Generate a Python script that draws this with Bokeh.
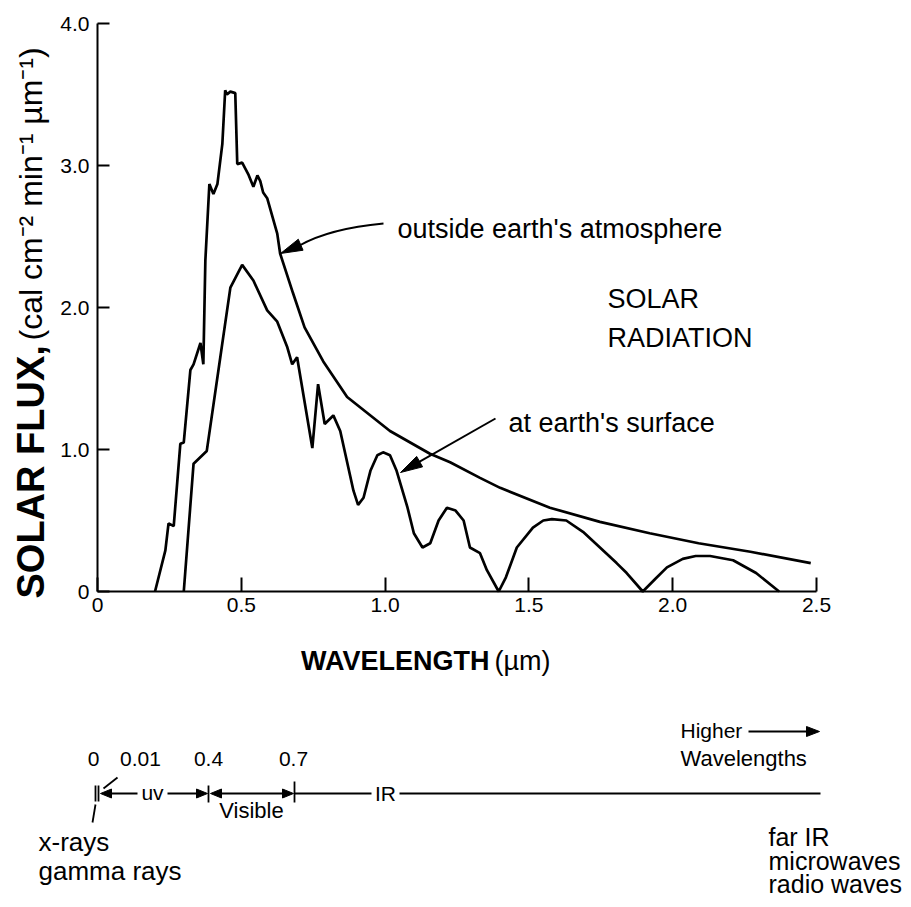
import math
from bokeh.plotting import figure
from bokeh.models import Range1d, FixedTicker, Label, CustomJSTickFormatter
from bokeh.embed import file_html
from bokeh.resources import INLINE

# ---------------- data ----------------
outside_wl = [0.200, 0.236, 0.247, 0.265, 0.288, 0.300, 0.323, 0.334, 0.358, 0.368,
              0.375, 0.389, 0.403, 0.417, 0.434, 0.444, 0.450, 0.462, 0.479, 0.486,
              0.503, 0.524, 0.542, 0.556, 0.566, 0.576, 0.590, 0.625, 0.635, 0.680,
              0.720, 0.785, 0.868, 1.017, 1.156, 1.226, 1.330, 1.400, 1.573, 1.747,
              1.920, 2.090, 2.270, 2.480]
outside_flux = [0.00, 0.29, 0.48, 0.46, 1.04, 1.05, 1.56, 1.60, 1.75, 1.60,
                2.33, 2.87, 2.80, 2.87, 3.15, 3.53, 3.50, 3.52, 3.51, 3.01,
                3.02, 2.94, 2.85, 2.93, 2.89, 2.81, 2.77, 2.52, 2.38, 2.10,
                1.86, 1.62, 1.37, 1.13, 0.97, 0.91, 0.80, 0.73, 0.59, 0.49,
                0.41, 0.34, 0.28, 0.20]

surface_wl = [0.300, 0.334, 0.380, 0.427, 0.462, 0.503, 0.542, 0.590, 0.625, 0.660,
              0.677, 0.694, 0.747, 0.767, 0.790, 0.820, 0.844, 0.890, 0.906, 0.925,
              0.949, 0.973, 0.993, 1.017, 1.040, 1.078, 1.100, 1.130, 1.157, 1.186,
              1.215, 1.245, 1.273, 1.295, 1.330, 1.354, 1.395, 1.420, 1.458, 1.514,
              1.550, 1.580, 1.630, 1.688, 1.747, 1.805, 1.840, 1.896, 1.940, 1.980,
              2.035, 2.080, 2.130, 2.210, 2.290, 2.370]
surface_flux = [0.00, 0.90, 0.99, 1.65, 2.14, 2.30, 2.19, 1.98, 1.90, 1.72,
                1.60, 1.65, 1.01, 1.46, 1.18, 1.24, 1.13, 0.71, 0.61, 0.66,
                0.85, 0.96, 0.98, 0.96, 0.85, 0.59, 0.41, 0.31, 0.34, 0.50,
                0.59, 0.57, 0.50, 0.31, 0.27, 0.15, 0.00, 0.10, 0.31, 0.45,
                0.50, 0.51, 0.50, 0.42, 0.31, 0.20, 0.13, 0.00, 0.09, 0.17,
                0.23, 0.25, 0.25, 0.22, 0.13, 0.00]

x_ticks = [0, 0.5, 1.0, 1.5, 2.0, 2.5]
x_tick_labels = ["0", "0.5", "1.0", "1.5", "2.0", "2.5"]
y_ticks = [0, 1, 2, 3, 4]
y_tick_labels = ["0", "1.0", "2.0", "3.0", "4.0"]

band_edge_labels = ["0", "0.01", "0.4", "0.7"]
band_names = ["uv", "Visible", "IR"]

# ---------------- layout (page pixels) ----------------
FONT = "Liberation Sans"
W, H = 905, 901
FL, FTOP = 97, 23            # where x=0 / y=4.0 sit on the page
FW, FH = 719, 568            # pixel span of 0..2.5 and 0..4.0
SX, SY = FW / 2.5, FH / 4.0

def fx(px):
    return (px - FL) / SX

def fy(py):
    return (FTOP + FH - py) / SY

def head(tx, ty, fxp, fyp, L, hw):
    dx, dy = tx - fxp, ty - fyp
    d = math.hypot(dx, dy)
    ux, uy = dx / d, dy / d
    bx, by = tx - ux * L, ty - uy * L
    nx, ny = -uy, ux
    return [tx, bx + nx * hw, bx - nx * hw], [ty, by + ny * hw, by - ny * hw]

p = figure(width=W, height=H, x_range=Range1d(fx(0), fx(W)), y_range=Range1d(fy(H), fy(0)),
           output_backend="svg", toolbar_location=None, min_border=0)
p.outline_line_color = None
p.xgrid.visible = False
p.ygrid.visible = False

fmt_code = "const i = tv.findIndex(t => Math.abs(t - tick) < 1e-9); return i >= 0 ? tl[i] : '';"
p.xaxis.ticker = FixedTicker(ticks=x_ticks)
p.xaxis.formatter = CustomJSTickFormatter(args=dict(tv=x_ticks, tl=x_tick_labels), code=fmt_code)
p.yaxis.ticker = FixedTicker(ticks=y_ticks)
p.yaxis.formatter = CustomJSTickFormatter(args=dict(tv=y_ticks, tl=y_tick_labels), code=fmt_code)
p.xaxis.fixed_location = 0
p.yaxis.fixed_location = 0
p.xaxis.bounds = (x_ticks[0], x_ticks[-1])
p.yaxis.bounds = (y_ticks[0], y_ticks[-1])
for ax in (p.xaxis, p.yaxis):
    ax.axis_line_width = 2
    ax.axis_line_color = "black"
    ax.major_tick_line_width = 2
    ax.major_tick_line_color = "black"
    ax.major_tick_out = 0
    ax.minor_tick_line_color = None
    ax.major_label_text_font = FONT
    ax.major_label_text_font_size = "21px"
    ax.major_label_text_color = "black"
p.xaxis.major_tick_in = 14
p.yaxis.major_tick_in = 12
p.xaxis.major_label_standoff = 6
p.yaxis.major_label_standoff = 8

p.line(outside_wl, outside_flux, line_width=2.7, color="black")
p.line(surface_wl, surface_flux, line_width=2.7, color="black")

def lab(x, y, text, size, style="normal", align="left", baseline="middle", angle=0):
    p.add_layout(Label(x=fx(x), y=fy(y), text=text, text_font=FONT, text_font_size=size,
                       text_font_style=style, text_align=align, text_baseline=baseline,
                       text_color="black", angle=angle))

lab(397, 228, "outside earth's atmosphere", "27px", baseline="alphabetic")
lab(607, 298, "SOLAR", "27px", baseline="alphabetic")
lab(607, 337, "RADIATION", "27px", baseline="alphabetic")
lab(508, 422, "at earth's surface", "27px", baseline="alphabetic")

# axis titles
lab(30, 598, "SOLAR FLUX,", "38px", style="bold", angle=math.pi / 2)
lab(30, 340, "(cal cm\u207b\u00b2 min\u207b\u00b9 \u00b5m\u207b\u00b9)", "32px", angle=math.pi / 2)
lab(489, 660, "WAVELENGTH", "27px", style="bold", align="right")
lab(494, 660, "(\u00b5m)", "27px")

def seg(pts, lw):
    p.segment(x0=[fx(s[0]) for s in pts], y0=[fy(s[1]) for s in pts],
              x1=[fx(s[2]) for s in pts], y1=[fy(s[3]) for s in pts], line_width=lw, color="black")

def heads(hs):
    p.patches([[fx(v) for v in h[0]] for h in hs], [[fy(v) for v in h[1]] for h in hs], color="black")

# arrow: outside earth's atmosphere (curved)
p.bezier(x0=[fx(383)], y0=[fy(223)], x1=[fx(299)], y1=[fy(245)],
         cx0=[fx(340)], cy0=[fy(227)], cx1=[fx(315)], cy1=[fy(236)],
         line_width=2, color="black")
# arrow: at earth's surface (straight)
tip2, from2 = (400, 472), (495, 418)
d = math.hypot(tip2[0] - from2[0], tip2[1] - from2[1])
ex = tip2[0] - (tip2[0] - from2[0]) / d * 18
ey = tip2[1] - (tip2[1] - from2[1]) / d * 18
seg([(from2[0], from2[1], ex, ey)], 2)
heads([head(280, 253, 303, 243, 22, 6), head(*tip2, *from2, 22, 6)])

# ---------------- spectrum diagram ----------------
BY = 793
segs = [(95, 785, 95, 801), (98, 785, 98, 801),            # double bar at 0 / 0.01
        (208, 785, 208, 802), (294, 781, 294, 802),        # ticks at 0.4, 0.7
        (137, BY, 109, BY), (167, BY, 198, BY),            # uv arrows
        (219, BY, 284, BY),                                # visible
        (294, BY, 371, BY), (399, BY, 820, BY),            # IR
        (117, 777, 103, 788), (95, 804, 92, 822),          # leader lines
        (748, 731, 808, 731)]                              # higher wavelengths arrow
seg(segs, 1.8)
heads([head(100, BY, 120, BY, 11, 4.5), head(207, BY, 187, BY, 11, 4.5),
       head(210, BY, 230, BY, 11, 4.5), head(293, BY, 273, BY, 11, 4.5),
       head(819, 731, 799, 731, 13, 5)])

for txt, x in zip(band_edge_labels, [93, 140, 208, 293]):
    lab(x, 758, txt, "21px", align="center")
lab(152, 792, band_names[0], "21px", align="center")
lab(251, 810, band_names[1], "22px", align="center")
lab(385, 793, band_names[2], "21px", align="center")
lab(680, 730, "Higher", "21px")
lab(680, 758, "Wavelengths", "22px")
lab(38, 841, "x-rays", "26px")
lab(38, 870, "gamma rays", "26px")
lab(768, 836, "far IR", "25px")
lab(768, 860, "microwaves", "25px")
lab(768, 883, "radio waves", "25px")

open("out.html", "w").write(file_html(p, INLINE))
